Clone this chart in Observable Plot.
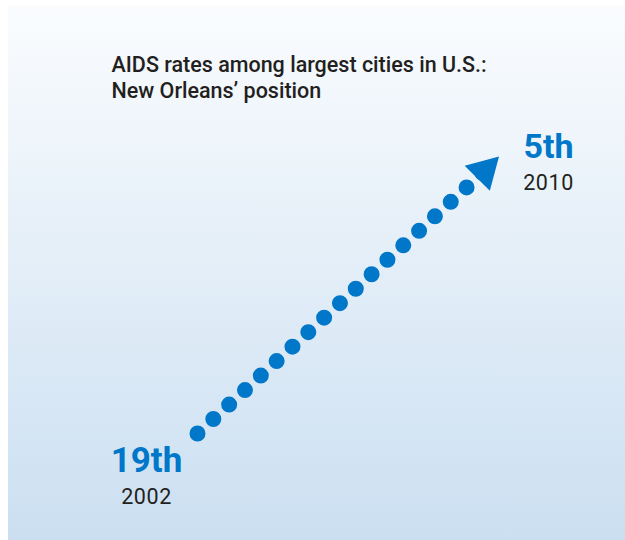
<!DOCTYPE html>
<html>
<head>
<meta charset="utf-8">
<script src="https://cdn.jsdelivr.net/npm/d3@7"></script>
<script src="https://cdn.jsdelivr.net/npm/@observablehq/plot@0.6"></script>
<style>
  html, body { margin: 0; padding: 0; background: white; }
  #chart svg { display: block; }
  #chart .yearlabel { letter-spacing: 0.6px; }
</style>
</head>
<body>
<div id="chart"></div>
<script>
const years = [2002, 2010];
const ranks = [19, 5];
const rankLabels = ["19th", "5th"];
const yearLabels = ["2002", "2010"];
const titleLines = ["AIDS rates among largest cities in U.S.:", "New Orleans’ position"];

const data = years.map((year, i) => ({year, rank: ranks[i], rankLabel: rankLabels[i], yearLabel: yearLabels[i]}));
const start = [data[0]];
const end = [data[1]];

const blue = "#0077c8";
const ink = "#231f20";
const font = "Roboto, 'Open Sans', sans-serif";

const chart = Plot.plot({
  width: 625,
  height: 540,
  margin: 0,
  style: {
    background: "linear-gradient(to bottom, #fafcfe, #cbdff1) 8px 6px / 617px 534px no-repeat, white",
    fontFamily: font
  },
  x: {domain: [2002, 2010], range: [197, 484], axis: null},
  y: {domain: [19, 5], range: [433, 170.5], axis: null},
  marks: [
    Plot.text([titleLines.join("\n")], {
      frameAnchor: "top-left", textAnchor: "start", lineAnchor: "top",
      dx: 111, dy: 53, fontSize: 21.5, lineHeight: 1.21, fill: ink, fontWeight: 500
    }),
    Plot.line(data, {
      x: "year", y: "rank", stroke: blue, strokeWidth: 16,
      strokeLinecap: "round", strokeDasharray: "0 21.45"
    }),
    Plot.dot(end, {
      x: "year", y: "rank", symbol: "triangle", r: 13.2, fill: blue, stroke: null, rotate: 45
    }),
    Plot.text(start, {
      x: "year", y: "rank", text: "rankLabel", lineAnchor: "bottom",
      dx: -51, dy: 38, fontSize: 35, fontWeight: 700, fill: blue
    }),
    Plot.text(start, {
      x: "year", y: "rank", text: "yearLabel", lineAnchor: "bottom",
      dx: -51, dy: 70, fontSize: 21.5, fill: ink, className: "yearlabel"
    }),
    Plot.text(end, {
      x: "year", y: "rank", text: "rankLabel", lineAnchor: "bottom",
      dx: 64, dy: -13.5, fontSize: 34, fontWeight: 700, fill: blue
    }),
    Plot.text(end, {
      x: "year", y: "rank", text: "yearLabel", lineAnchor: "bottom",
      dx: 64, dy: 19, fontSize: 21.5, fill: ink, className: "yearlabel"
    })
  ]
});
document.getElementById("chart").appendChild(chart);
</script>
</body>
</html>
